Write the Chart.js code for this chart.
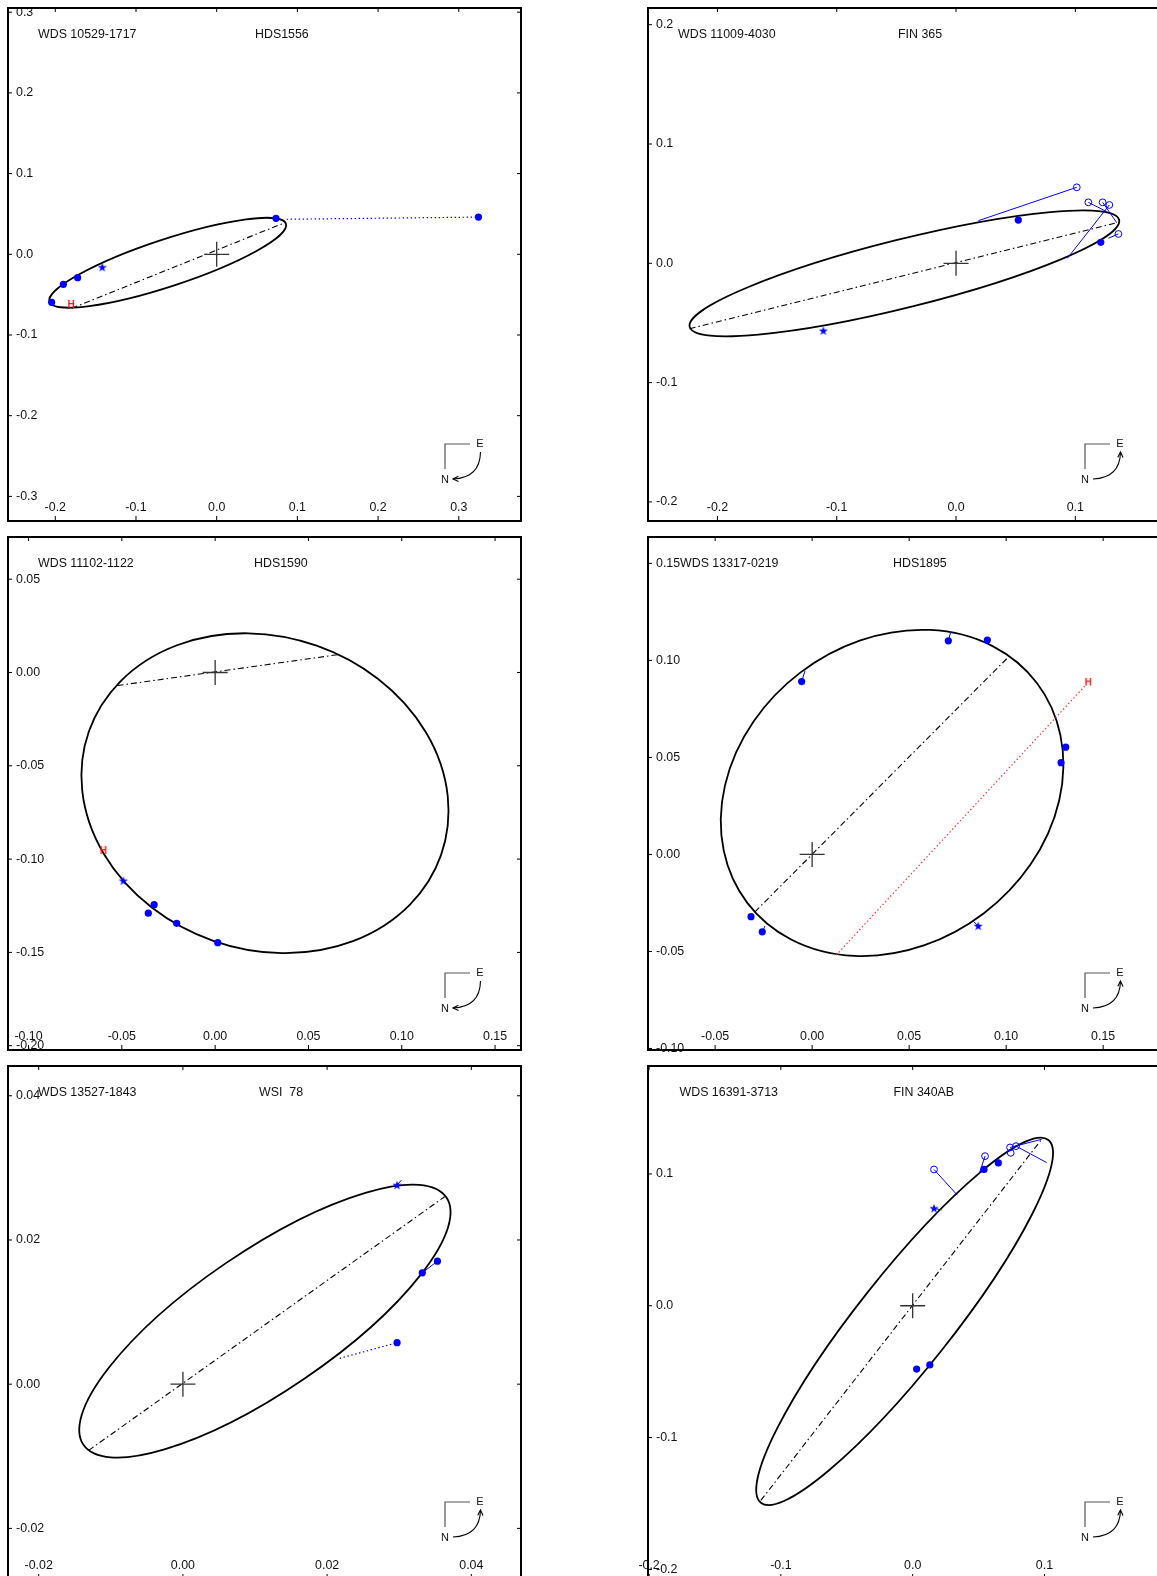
<!DOCTYPE html>
<html>
<head>
<meta charset="utf-8">
<script src="https://cdn.jsdelivr.net/npm/chart.js@4.4.1/dist/chart.umd.min.js"></script>
<style>
  html, body { margin: 0; padding: 0; background: #fff; overflow: hidden; }
  #page { position: relative; width: 1157px; height: 1576px; overflow: hidden; background: #fff; }
  #page canvas { position: absolute; }
</style>
</head>
<body>
<div id="page"></div>
<script>
// primary star sits at the origin of every panel
const PRIMARY = [[0, 0]];

// orbit = [centre x, centre y, semi-axis a, semi-axis b, tilt deg]

// WDS 10529-1717  HDS1556
const P1_XTICKS = ['-0.2', '-0.1', '0.0', '0.1', '0.2', '0.3'];
const P1_YTICKS = ['-0.3', '-0.2', '-0.1', '0.0', '0.1', '0.2', '0.3'];
const P1_ORBIT = [-0.0607, -0.0105, 0.1543, 0.0292, 18.25];
const P1_APSIDES = [[-0.1797, -0.0669], [0.0846, 0.0392]];
const P1_DOTS = [[-0.2045, -0.0595], [-0.190, -0.0372], [-0.1723, -0.0290], [0.0735, 0.0446], [0.3244, 0.0461]];
const P1_OPEN = [];
const P1_STARS = [[-0.1418, -0.0161]];
const P1_HIP = [[-0.1805, -0.0628]];
const P1_RESID = [];
const P1_DOTTED = [[[0.0867, 0.0434], [0.3244, 0.0461]]];
const P1_RED = [];

// WDS 11009-4030  FIN 365
const P2_XTICKS = ['-0.2', '-0.1', '0.0', '0.1', '0.2'];
const P2_YTICKS = ['-0.2', '-0.1', '0.0', '0.1', '0.2'];
const P2_ORBIT = [-0.0433, -0.0084, 0.1855, 0.0286, 14.0];
const P2_APSIDES = [[-0.2233, -0.0548], [0.1347, 0.0340]];
const P2_DOTS = [[0.0522, 0.0362], [0.1213, 0.0176]];
const P2_OPEN = [[0.1012, 0.0637], [0.1109, 0.0511], [0.1229, 0.0511], [0.1285, 0.0489], [0.1361, 0.0246]];
const P2_STARS = [[-0.1112, -0.0565]];
const P2_HIP = [];
const P2_RESID = [
  [[0.1012, 0.0637], [0.0187, 0.0357]],
  [[0.1109, 0.0511], [0.1263, 0.0433]],
  [[0.1229, 0.0511], [0.1347, 0.0340]],
  [[0.1285, 0.0489], [0.0933, 0.0042]],
  [[0.1361, 0.0246], [0.1277, 0.0210]]
];
const P2_DOTTED = [];
const P2_RED = [];

// WDS 11102-1122  HDS1590
const P3_XTICKS = ['-0.10', '-0.05', '0.00', '0.05', '0.10', '0.15'];
const P3_YTICKS = ['-0.20', '-0.15', '-0.10', '-0.05', '0.00', '0.05'];
const P3_ORBIT = [0.0267, -0.0647, 0.1000, 0.0838, -19.3];
const P3_APSIDES = [[-0.0523, -0.0070], [0.0668, 0.0097]];
const P3_DOTS = [[-0.0327, -0.1244], [-0.0358, -0.1290], [-0.0206, -0.1344], [0.0014, -0.1448]];
const P3_OPEN = [];
const P3_STARS = [[-0.0492, -0.1116]];
const P3_HIP = [[-0.0599, -0.0957]];
const P3_RESID = [];
const P3_DOTTED = [];
const P3_RED = [];

// WDS 13317-0219  HDS1895
const P4_XTICKS = ['-0.05', '0.00', '0.05', '0.10', '0.15'];
const P4_YTICKS = ['-0.10', '-0.05', '0.00', '0.05', '0.10', '0.15'];
const P4_ORBIT = [0.0412, 0.0317, 0.0937, 0.0780, 37.2];
const P4_APSIDES = [[-0.0295, -0.0296], [0.1011, 0.1017]];
const P4_DOTS = [[0.0702, 0.1101], [0.0903, 0.1105], [-0.0054, 0.0891], [0.1307, 0.0553], [0.1283, 0.0473], [-0.0315, -0.0321], [-0.0257, -0.0399]];
const P4_OPEN = [];
const P4_STARS = [[0.0856, -0.0369]];
const P4_HIP = [[0.1423, 0.0886]];
const P4_RESID = [
  [[0.0702, 0.1101], [0.0714, 0.1146]],
  [[-0.0054, 0.0891], [-0.0037, 0.0946]],
  [[-0.0257, -0.0399], [-0.0243, -0.0369]],
  [[0.0856, -0.0369], [0.0830, -0.0344]]
];
const P4_DOTTED = [];
const P4_RED = [[[0.0124, -0.0519], [0.1415, 0.0878]]];

// WDS 13527-1843  WSI 78
const P5_XTICKS = ['-0.02', '0.00', '0.02', '0.04'];
const P5_YTICKS = ['-0.02', '0.00', '0.02', '0.04'];
const P5_ORBIT = [0.01137, 0.00875, 0.03046, 0.00969, 34.3];
const P5_APSIDES = [[-0.01307, -0.00918], [0.0363, 0.0260]];
const P5_DOTS = [[0.0332, 0.01544], [0.0353, 0.01706], [0.0297, 0.00575]];
const P5_OPEN = [];
const P5_STARS = [[0.0297, 0.0276]];
const P5_HIP = [];
const P5_RESID = [
  [[0.0353, 0.01706], [0.0332, 0.01544]],
  [[0.0297, 0.0276], [0.0303, 0.0283]]
];
const P5_DOTTED = [[[0.02175, 0.00359], [0.0297, 0.00575]]];
const P5_RED = [];

// WDS 16391-3713  FIN 340AB
const P6_XTICKS = ['-0.2', '-0.1', '0.0', '0.1', '0.2'];
const P6_YTICKS = ['-0.2', '-0.1', '0.0', '0.1'];
const P6_ORBIT = [-0.0061, -0.0118, 0.1756, 0.0357, 51.6];
const P6_APSIDES = [[-0.1152, -0.1477], [0.0979, 0.1263]];
const P6_DOTS = [[0.0541, 0.1034], [0.0650, 0.1084], [0.0030, -0.0480], [0.0130, -0.0449]];
const P6_OPEN = [[0.0162, 0.1034], [0.0549, 0.1135], [0.0739, 0.1201], [0.0784, 0.1211], [0.0744, 0.1160]];
const P6_STARS = [[0.0162, 0.0739]];
const P6_HIP = [];
const P6_RESID = [
  [[0.0162, 0.1034], [0.0339, 0.0839]],
  [[0.0549, 0.1135], [0.0506, 0.1004]],
  [[0.0739, 0.1201], [0.0979, 0.1263]],
  [[0.0784, 0.1211], [0.1017, 0.1086]],
  [[0.0162, 0.0739], [0.0220, 0.0727]]
];
const P6_DOTTED = [];
const P6_RED = [];

const BLUE = '#0000ff';
const FONT = '"Liberation Sans", Arial, Helvetica, sans-serif';
const BOX = 513;
const PAD = 14;

// small marker images
const starImg = document.createElement('canvas');
starImg.width = 12; starImg.height = 12;
(function () {
  const c = starImg.getContext('2d');
  c.beginPath();
  for (let i = 0; i < 10; i++) {
    const r = i % 2 ? 1.9 : 4.8;
    const t = -Math.PI / 2 + i * Math.PI / 5;
    c.lineTo(6 + r * Math.cos(t), 6.3 + r * Math.sin(t));
  }
  c.closePath();
  c.fillStyle = BLUE;
  c.fill();
})();

const hipImg = document.createElement('canvas');
hipImg.width = 10; hipImg.height = 10;
(function () {
  const c = hipImg.getContext('2d');
  c.fillStyle = '#ff1a1a';
  c.font = 'bold 10px ' + FONT;
  c.textAlign = 'center';
  c.textBaseline = 'middle';
  c.fillText('H', 5, 5.5);
})();

function pts(arr) { return arr.map(p => ({ x: p[0], y: p[1] })); }

function seg(arr, color, width, dash) {
  return { data: pts(arr), showLine: true, pointRadius: 0, borderColor: color, borderWidth: width, borderDash: dash || [] };
}

function buildDatasets(d) {
  const ds = [
    { data: pts(PRIMARY), pointStyle: 'cross', pointRadius: 12.5, borderColor: '#333', borderWidth: 1.3 },
    { data: pts(d.dots), pointRadius: 3.6, backgroundColor: BLUE, borderWidth: 0 },
    { data: pts(d.open), pointRadius: 3.4, backgroundColor: 'rgba(0,0,0,0)', borderColor: BLUE, borderWidth: 1 },
    { data: pts(d.stars), pointStyle: starImg, pointRadius: 5 },
    { data: pts(d.hip), pointStyle: hipImg, pointRadius: 5 }
  ];
  d.resid.forEach(s => ds.push(seg(s, BLUE, 1)));
  d.dotted.forEach(s => ds.push(seg(s, BLUE, 1.2, [1.4, 2.6])));
  d.red.forEach(s => ds.push(seg(s, '#ff2a2a', 1.2, [1.4, 2.4])));
  ds.push(seg(d.apsides, '#000', 1.1, [6, 3, 1.5, 3]));
  return ds;
}

function line(ctx, x1, y1, x2, y2) {
  ctx.beginPath(); ctx.moveTo(x1, y1); ctx.lineTo(x2, y2); ctx.stroke();
}

function drawCompass(ctx, a, kind) {
  const ox = a.left + 437, oy = a.top + 436;
  ctx.strokeStyle = '#555';
  ctx.lineWidth = 1.2;
  ctx.beginPath(); ctx.moveTo(ox + 25, oy); ctx.lineTo(ox, oy); ctx.lineTo(ox, oy + 25); ctx.stroke();
  ctx.fillStyle = '#111';
  ctx.font = '11px ' + FONT;
  ctx.textAlign = 'center';
  ctx.textBaseline = 'middle';
  ctx.fillText('E', ox + 35, oy);
  ctx.fillText('N', ox, oy + 35.5);
  let s, c, e;
  if (kind === 'N') { s = [ox + 35.5, oy + 8]; c = [ox + 35, oy + 34]; e = [ox + 8, oy + 35]; }
  else { s = [ox + 8, oy + 35]; c = [ox + 35, oy + 34]; e = [ox + 35.5, oy + 8]; }
  ctx.strokeStyle = '#000';
  ctx.lineWidth = 1.1;
  ctx.beginPath(); ctx.moveTo(s[0], s[1]); ctx.quadraticCurveTo(c[0], c[1], e[0], e[1]); ctx.stroke();
  const ang = Math.atan2(e[1] - c[1], e[0] - c[0]);
  const L = 6;
  ctx.beginPath();
  ctx.moveTo(e[0] - L * Math.cos(ang - 0.45), e[1] - L * Math.sin(ang - 0.45));
  ctx.lineTo(e[0], e[1]);
  ctx.lineTo(e[0] - L * Math.cos(ang + 0.45), e[1] - L * Math.sin(ang + 0.45));
  ctx.stroke();
}

const orbitPlugin = {
  id: 'orbitFrame',
  beforeDatasetsDraw(chart, args, o) {
    const { ctx, chartArea: a, scales: { x, y } } = chart;
    const [cx, cy, sa, sb, tilt] = o.orbit;
    const kx = x.getPixelForValue(1) - x.getPixelForValue(0);
    const ky = y.getPixelForValue(0) - y.getPixelForValue(1);
    ctx.save();
    ctx.beginPath(); ctx.rect(a.left, a.top, a.width, a.height); ctx.clip();
    ctx.save();
    ctx.translate(x.getPixelForValue(cx), y.getPixelForValue(cy));
    ctx.scale(kx, -ky);
    ctx.rotate(tilt * Math.PI / 180);
    ctx.beginPath();
    ctx.ellipse(0, 0, sa, sb, 0, 0, 2 * Math.PI);
    ctx.restore();
    ctx.strokeStyle = '#000';
    ctx.lineWidth = 1.8;
    ctx.stroke();
    ctx.restore();
  },
  afterDraw(chart, args, o) {
    const { ctx, chartArea: a, scales: { x, y } } = chart;
    ctx.save();
    ctx.font = '12.4px ' + FONT;
    ctx.fillStyle = '#111';
    ctx.strokeStyle = '#000';
    ctx.lineWidth = 1;
    ctx.textAlign = 'center';
    ctx.textBaseline = 'middle';
    o.xTicks.forEach(t => {
      const v = parseFloat(t);
      if (v < x.min - 1e-9 || v > x.max + 1e-9) return;
      const px = x.getPixelForValue(v);
      line(ctx, px, a.top, px, a.top + 4);
      line(ctx, px, a.bottom, px, a.bottom - 5);
      ctx.fillText(t, px, a.bottom - 13.5);
    });
    ctx.textAlign = 'left';
    o.yTicks.forEach(t => {
      const v = parseFloat(t);
      if (v < y.min - 1e-9 || v > y.max + 1e-9) return;
      const py = y.getPixelForValue(v);
      line(ctx, a.left, py, a.left + 4, py);
      line(ctx, a.right, py, a.right - 4, py);
      ctx.fillText(t, a.left + 8, py);
    });
    ctx.fillText(o.names[0], a.left + o.nameX[0], a.top + 27);
    ctx.fillText(o.names[1], a.left + o.nameX[1], a.top + 27);
    ctx.lineWidth = 2;
    ctx.strokeRect(a.left, a.top, a.width, a.height);
    drawCompass(ctx, a, o.arrow);
    ctx.restore();
  }
};

const panels = [
  { left: 8, top: 8, x: [-0.2586, 0.3771], y: [-0.3305, 0.3052], names: ['WDS 10529-1717', 'HDS1556'], nameX: [30, 247], arrow: 'N',
    xTicks: P1_XTICKS, yTicks: P1_YTICKS, orbit: P1_ORBIT, apsides: P1_APSIDES, dots: P1_DOTS, open: P1_OPEN, stars: P1_STARS, hip: P1_HIP, resid: P1_RESID, dotted: P1_DOTTED, red: P1_RED },
  { left: 648, top: 8, x: [-0.2582, 0.1718], y: [-0.2160, 0.2140], names: ['WDS 11009-4030', 'FIN 365'], nameX: [30, 250], arrow: 'E',
    xTicks: P2_XTICKS, yTicks: P2_YTICKS, orbit: P2_ORBIT, apsides: P2_APSIDES, dots: P2_DOTS, open: P2_OPEN, stars: P2_STARS, hip: P2_HIP, resid: P2_RESID, dotted: P2_DOTTED, red: P2_RED },
  { left: 8, top: 537, x: [-0.1110, 0.1639], y: [-0.2023, 0.0726], names: ['WDS 11102-1122', 'HDS1590'], nameX: [30, 246], arrow: 'N',
    xTicks: P3_XTICKS, yTicks: P3_YTICKS, orbit: P3_ORBIT, apsides: P3_APSIDES, dots: P3_DOTS, open: P3_OPEN, stars: P3_STARS, hip: P3_HIP, resid: P3_RESID, dotted: P3_DOTTED, red: P3_RED },
  { left: 648, top: 537, x: [-0.0846, 0.1798], y: [-0.1008, 0.1636], names: ['WDS 13317-0219', 'HDS1895'], nameX: [32, 245], arrow: 'E',
    xTicks: P4_XTICKS, yTicks: P4_YTICKS, orbit: P4_ORBIT, apsides: P4_APSIDES, dots: P4_DOTS, open: P4_OPEN, stars: P4_STARS, hip: P4_HIP, resid: P4_RESID, dotted: P4_DOTTED, red: P4_RED },
  { left: 8, top: 1066, x: [-0.02426, 0.04689], y: [-0.02702, 0.04413], names: ['WDS 13527-1843', 'WSI  78'], nameX: [30, 251], arrow: 'E',
    xTicks: P5_XTICKS, yTicks: P5_YTICKS, orbit: P5_ORBIT, apsides: P5_APSIDES, dots: P5_DOTS, open: P5_OPEN, stars: P5_STARS, hip: P5_HIP, resid: P5_RESID, dotted: P5_DOTTED, red: P5_RED },
  { left: 648, top: 1066, x: [-0.2008, 0.1884], y: [-0.2073, 0.1819], names: ['WDS 16391-3713', 'FIN 340AB'], nameX: [31.5, 245.5], arrow: 'E',
    xTicks: P6_XTICKS, yTicks: P6_YTICKS, orbit: P6_ORBIT, apsides: P6_APSIDES, dots: P6_DOTS, open: P6_OPEN, stars: P6_STARS, hip: P6_HIP, resid: P6_RESID, dotted: P6_DOTTED, red: P6_RED }
];

const page = document.getElementById('page');
panels.forEach(p => {
  const cv = document.createElement('canvas');
  cv.width = BOX + 2 * PAD;
  cv.height = BOX + 2 * PAD;
  cv.style.left = (p.left - PAD) + 'px';
  cv.style.top = (p.top - PAD) + 'px';
  cv.style.width = cv.width + 'px';
  cv.style.height = cv.height + 'px';
  page.appendChild(cv);
  new Chart(cv.getContext('2d'), {
    type: 'scatter',
    data: { datasets: buildDatasets(p) },
    options: {
      responsive: false,
      animation: false,
      events: [],
      layout: { padding: PAD },
      plugins: {
        legend: { display: false },
        tooltip: { enabled: false },
        orbitFrame: p
      },
      scales: {
        x: { type: 'linear', min: p.x[0], max: p.x[1], display: false },
        y: { type: 'linear', min: p.y[0], max: p.y[1], display: false }
      }
    },
    plugins: [orbitPlugin]
  });
});
</script>
</body>
</html>
